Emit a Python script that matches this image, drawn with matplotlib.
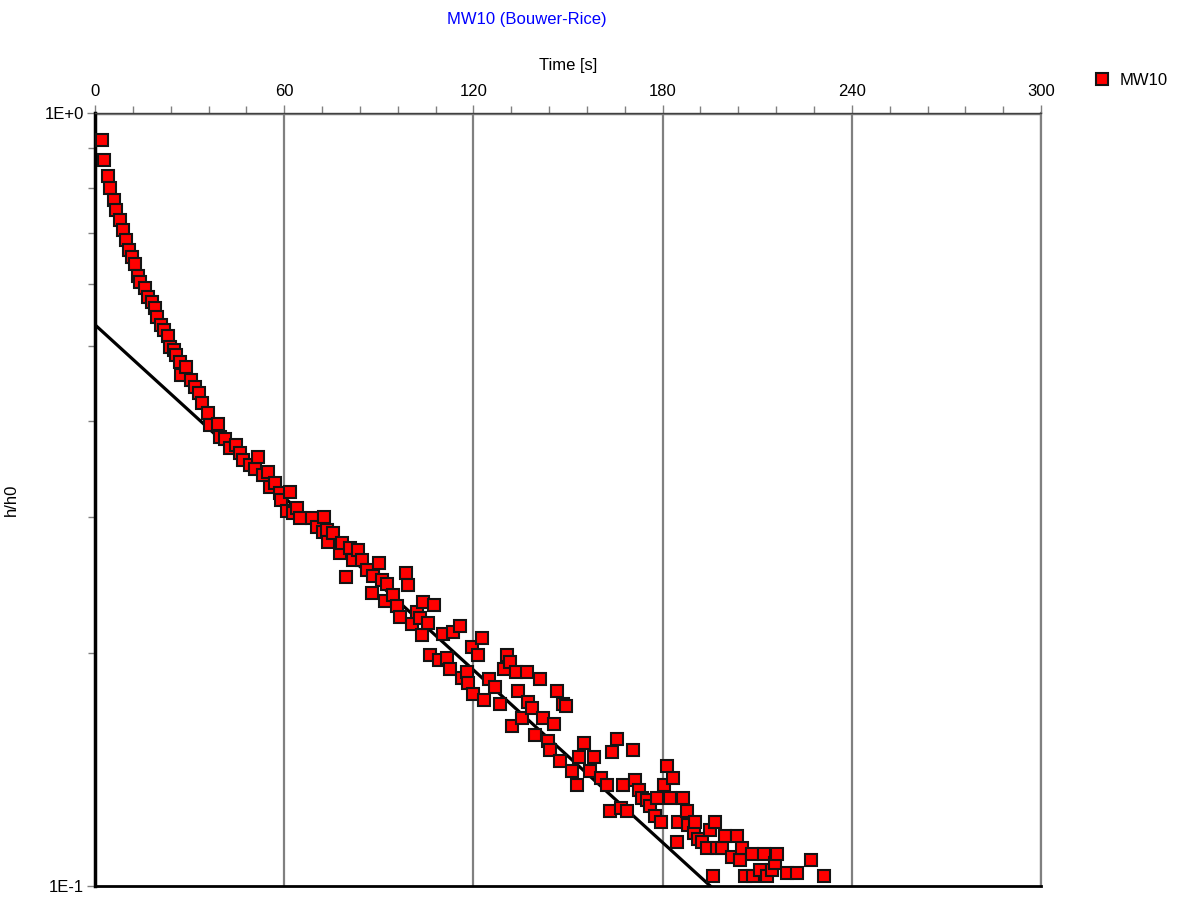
import matplotlib
matplotlib.use('Agg')
import matplotlib.pyplot as plt
from matplotlib.ticker import FixedLocator, NullFormatter, FixedFormatter

plt.rcParams['font.family'] = ['Liberation Sans', 'DejaVu Sans']

# observed recovery data, MW10
t_obs = [2.2, 2.9, 4.0, 4.7, 5.9, 6.7, 7.8, 8.9, 9.7, 10.8, 11.7, 12.8, 13.5, 14.4, 15.9,
         16.8, 18.1, 18.9, 19.8, 20.8, 21.9, 23.0, 23.9, 24.9, 25.7, 27.0, 27.3, 28.7, 30.4,
         31.7, 33.0, 33.8, 35.7, 36.5, 39.1, 39.6, 41.2, 42.8, 44.7, 46.0, 47.0, 49.2, 50.7,
         51.6, 53.4, 55.0, 55.5, 57.1, 58.5, 58.9, 60.8, 61.8, 62.9, 64.2, 65.0, 68.7, 70.3,
         72.4, 72.7, 73.5, 74.0, 75.6, 77.7, 78.2, 79.6, 80.9, 81.9, 83.5, 84.6, 86.2, 87.8,
         88.3, 89.9, 90.9, 92.0, 92.5, 94.6, 95.7, 96.7, 98.6, 99.1, 100.4, 102.0, 103.1,
         103.6, 104.0, 105.7, 106.2, 107.6, 109.2, 110.5, 111.5, 112.6, 113.6, 115.8, 116.3,
         117.9, 118.4, 119.4, 120.0, 121.6, 122.6, 123.2, 125.0, 126.7, 128.3, 129.7, 130.5,
         131.6, 132.2, 133.5, 134.0, 135.3, 136.9, 137.2, 138.5, 139.6, 141.1, 142.2, 143.8,
         144.3, 145.6, 146.4, 147.5, 148.5, 149.5, 151.2, 152.7, 153.4, 155.2, 157.0, 158.1,
         160.3, 162.3, 163.3, 164.1, 165.5, 166.8, 167.5, 168.6, 170.5, 171.1, 172.5, 173.4,
         175.2, 176.0, 177.6, 178.2, 179.4, 180.5, 181.3, 182.4, 183.2, 184.5, 185.0, 186.4,
         187.7, 187.9, 189.8, 190.3, 191.3, 192.4, 194.0, 195.1, 196.1, 196.6, 197.2, 198.8,
         199.8, 201.9, 203.5, 204.6, 205.1, 206.2, 208.3, 208.7, 210.9, 212.0, 213.1, 214.6,
         215.7, 216.2, 219.4, 222.6, 227.1, 231.3]
h_obs = [0.923, 0.869, 0.829, 0.800, 0.772, 0.749, 0.727, 0.706, 0.685, 0.665, 0.651, 0.638,
         0.615, 0.604, 0.594, 0.578, 0.569, 0.559, 0.545, 0.532, 0.524, 0.515, 0.498, 0.494,
         0.486, 0.476, 0.458, 0.469, 0.452, 0.442, 0.434, 0.422, 0.409, 0.395, 0.396, 0.381,
         0.379, 0.369, 0.372, 0.363, 0.356, 0.350, 0.346, 0.359, 0.340, 0.343, 0.328, 0.332,
         0.322, 0.316, 0.306, 0.323, 0.304, 0.308, 0.299, 0.299, 0.291, 0.287, 0.300, 0.289,
         0.279, 0.286, 0.270, 0.278, 0.251, 0.274, 0.264, 0.272, 0.264, 0.256, 0.239, 0.252,
         0.262, 0.249, 0.234, 0.246, 0.238, 0.230, 0.223, 0.254, 0.245, 0.218, 0.226, 0.222,
         0.211, 0.233, 0.219, 0.199, 0.231, 0.196, 0.212, 0.197, 0.191, 0.213, 0.217, 0.186,
         0.189, 0.183, 0.204, 0.177, 0.199, 0.209, 0.174, 0.185, 0.181, 0.172, 0.191, 0.199,
         0.195, 0.161, 0.189, 0.179, 0.165, 0.189, 0.173, 0.170, 0.157, 0.185, 0.165, 0.154,
         0.150, 0.162, 0.179, 0.145, 0.172, 0.171, 0.141, 0.135, 0.147, 0.153, 0.141, 0.147,
         0.138, 0.135, 0.125, 0.149, 0.155, 0.126, 0.135, 0.125, 0.150, 0.137, 0.133, 0.130,
         0.129, 0.127, 0.123, 0.130, 0.121, 0.135, 0.143, 0.130, 0.138, 0.114, 0.121, 0.130,
         0.125, 0.120, 0.117, 0.121, 0.115, 0.114, 0.112, 0.118, 0.103, 0.121, 0.112, 0.112,
         0.116, 0.109, 0.116, 0.108, 0.112, 0.103, 0.110, 0.103, 0.105, 0.110, 0.103, 0.105,
         0.107, 0.110, 0.104, 0.104, 0.108, 0.103]

# Bouwer-Rice straight-line fit
t_fit = [0.0, 195.1]
h_fit = [0.532, 0.1]

x_major = [0, 60, 120, 180, 240, 300]
x_minor = [12, 24, 36, 48, 72, 84, 96, 108, 132, 144, 156, 168, 192, 204, 216, 228, 252, 264, 276, 288]
y_ticks = [0.1, 1.0]
y_labels = ['1E-1', '1E+0']

kGrey = '#808080'
kRed = '#ff0000'

fig = plt.figure(figsize=(11.97, 8.98), dpi=100)
ax = fig.add_axes([0.0794, 0.0134, 0.7903, 0.8608])

ax.set_yscale('log')
ax.set_xlim(0, 300)
ax.set_ylim(0.1, 1.0)

# gridlines at major times
for xv in x_major[1:]:
    ax.axvline(xv, color=kGrey, lw=1.6, zorder=1)
ax.axhline(1.0, color=kGrey, lw=2.5, zorder=1)

ax.plot(t_fit, h_fit, color='black', lw=2.3, zorder=3, clip_on=True)
ax.plot(t_obs, h_obs, linestyle='', marker='s', markersize=8.6, markerfacecolor=kRed,
        markeredgecolor='#141414', markeredgewidth=1.5, zorder=4, label='MW10')

# x axis on top
ax.xaxis.set_ticks_position('top')
ax.xaxis.set_label_position('top')
ax.xaxis.set_major_locator(FixedLocator(x_major))
ax.xaxis.set_minor_locator(FixedLocator(x_minor))
ax.tick_params(axis='x', which='major', direction='out', length=6, width=1, color=kGrey,
               labelsize=12, pad=4)
ax.tick_params(axis='x', which='minor', direction='out', length=5, width=1, color=kGrey)
ax.set_xlabel('Time [s]', fontsize=12, labelpad=10)

ax.yaxis.set_major_locator(FixedLocator(y_ticks))
ax.yaxis.set_major_formatter(FixedFormatter(y_labels))
ax.yaxis.set_minor_locator(FixedLocator([0.2, 0.3, 0.4, 0.5, 0.6, 0.7, 0.8, 0.9]))
ax.yaxis.set_minor_formatter(NullFormatter())
ax.tick_params(axis='y', which='major', direction='out', length=6, width=1, color=kGrey,
               labelsize=12, pad=2)
ax.tick_params(axis='y', which='minor', direction='out', length=5, width=1, color=kGrey)
ax.set_ylabel('h/h0', fontsize=12)
ax.yaxis.set_label_coords(-0.080, 0.5)

ax.spines['left'].set_color('black')
ax.spines['left'].set_linewidth(2.5)
ax.spines['bottom'].set_color('black')
ax.spines['bottom'].set_linewidth(2.0)
ax.spines['top'].set_color('#404040')
ax.spines['top'].set_linewidth(1.0)
ax.spines['right'].set_color(kGrey)
ax.spines['right'].set_linewidth(1.6)

fig.text(0.440, 0.978, 'MW10 (Bouwer-Rice)', color='#0000ff', fontsize=12,
         ha='center', va='center')

ax.legend(loc='upper left', bbox_to_anchor=(1.05, 1.06), frameon=False, fontsize=12,
          handletextpad=0.6, handlelength=0.9, borderaxespad=0, numpoints=1)

fig.savefig('out.png', dpi=100)
